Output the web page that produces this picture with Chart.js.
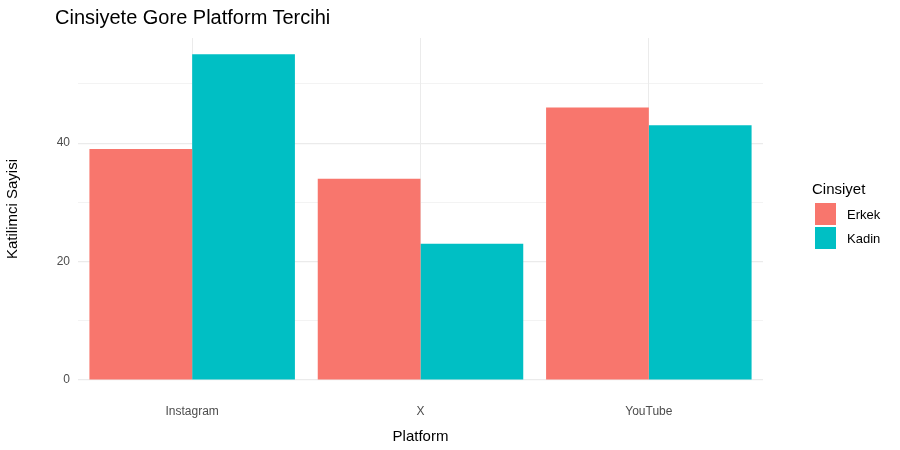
<!DOCTYPE html>
<html><head><meta charset="utf-8">
<script src="https://cdn.jsdelivr.net/npm/chart.js@4"></script>
<style>
body{margin:0;background:#fff;font-family:"Liberation Sans",Arial,sans-serif;}
#wrap{position:relative;width:900px;height:450px;}
#title{position:absolute;left:55px;top:6px;font-size:20px;color:#000;}
#leg{position:absolute;left:812px;top:180px;font-size:15px;color:#000;}
.it{display:flex;align-items:center;font-size:13px;margin-top:2px;height:22px;}
.sw{width:21px;height:22px;margin-right:11px;margin-left:3px;}
</style></head><body>
<div id="wrap"><canvas id="c" width="900" height="450"></canvas>
<div id="title">Cinsiyete Gore Platform Tercihi</div>
<div id="leg">Cinsiyet
<div class="it" style="margin-top:6px"><div class="sw" style="background:#F8766D"></div>Erkek</div>
<div class="it"><div class="sw" style="background:#00BFC4"></div>Kadin</div></div>
</div>
<script>
const categories=["Instagram","X","YouTube"];
const erkek=[39,34,46];
const kadin=[55,23,43];
const seriesNames=["Erkek","Kadin"];
new Chart(document.getElementById('c'),{
type:'bar',
data:{labels:categories,datasets:[
{label:seriesNames[0],data:erkek,backgroundColor:'#F8766D'},
{label:seriesNames[1],data:kadin,backgroundColor:'#00BFC4'}]},
options:{responsive:false,animation:false,
layout:{padding:{top:38,right:137,left:0,bottom:0}},
plugins:{legend:{display:false},tooltip:{enabled:false}},
datasets:{bar:{categoryPercentage:0.9,barPercentage:1}},
scales:{
x:{grid:{offset:false,color:'#ebebeb',drawTicks:false},border:{display:false},
 ticks:{color:'#4d4d4d',font:{size:12,family:'Liberation Sans'},padding:24},
 title:{display:true,text:'Platform',color:'#000',font:{size:15,family:'Liberation Sans'},padding:{top:2}},
 afterFit:s=>{s.height=70;}},
y:{min:0,max:57.75,border:{display:false},
 afterBuildTicks:s=>{s.ticks=s.ticks.filter(t=>t.value%10===0);},
 ticks:{stepSize:10,color:'#4d4d4d',font:{size:12,family:'Liberation Sans'},padding:8,
  callback:v=>v%20===0?v:''},
 grid:{color:'#ebebeb',drawTicks:false,lineWidth:c=>c.tick&&c.tick.value%20===0?1.2:0.6},
 title:{display:true,text:'Katilimci Sayisi',color:'#000',font:{size:15,family:'Liberation Sans'}},
 afterFit:s=>{s.width=78;}}
}}});
</script></body></html>
